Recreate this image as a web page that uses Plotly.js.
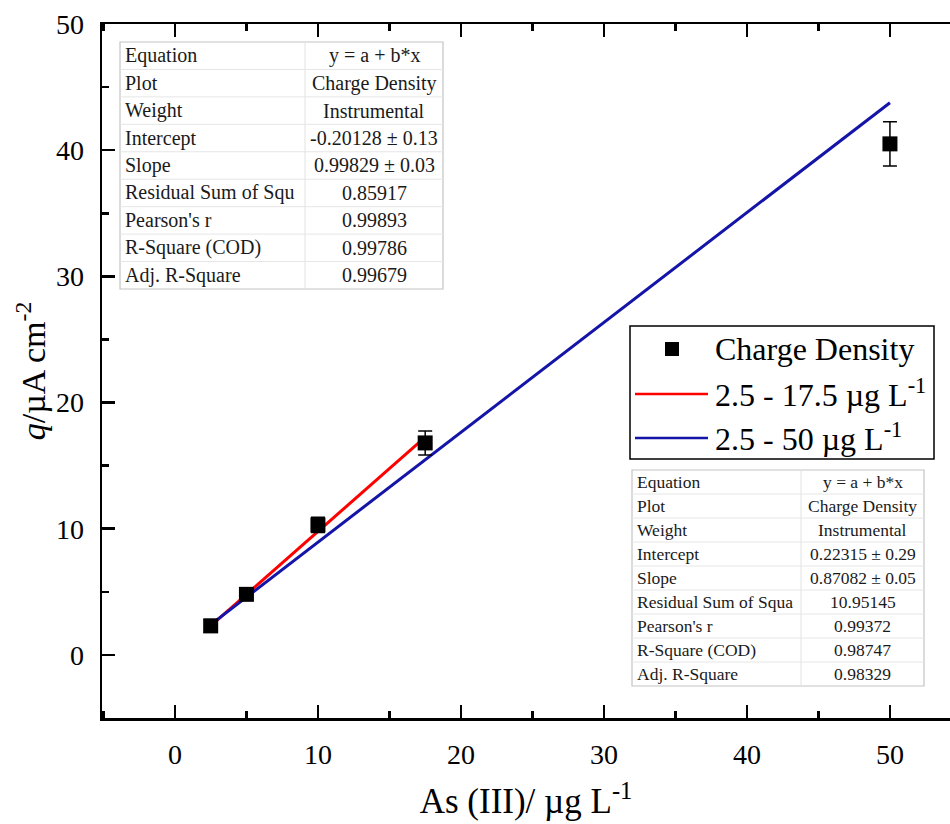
<!DOCTYPE html>
<html>
<head>
<meta charset="utf-8">
<script src="https://cdn.plot.ly/plotly-3.0.1.min.js"></script>
<style>
  html, body { margin: 0; padding: 0; background: #ffffff; overflow: hidden; }
  #chart { width: 950px; height: 824px; }
</style>
</head>
<body>
<div id="chart"></div>
<script>
// Measured points: As(III) concentration vs. charge density with error bars
const concentration = [2.5, 5, 10, 17.5, 50];
const chargeDensity = [2.3, 4.8, 10.3, 16.8, 40.5];
const chargeError = [0.5, 0.4, 0.6, 0.95, 1.75];

// Linear fits y = a + b*x over two concentration windows
const fitNames = ['2.5 - 17.5 µg L<sup>-1</sup>', '2.5 - 50 µg L<sup>-1</sup>'];
const fitIntercept = [-0.20128, 0.22315];
const fitSlope = [0.99829, 0.87082];
const fitXStart = [2.5, 2.5];
const fitXEnd = [17.5, 50];
const fitColors = ['#ff0000', '#1414a8'];

// Fit statistics tables
const statLabelsShort = ['Equation', 'Plot', 'Weight', 'Intercept', 'Slope',
  'Residual Sum of Squ', "Pearson's r", 'R-Square (COD)', 'Adj. R-Square'];
const statValuesShort = ['y = a + b*x', 'Charge Density', 'Instrumental',
  '-0.20128 ± 0.13', '0.99829 ± 0.03', '0.85917', '0.99893', '0.99786', '0.99679'];
const statLabelsLong = ['Equation', 'Plot', 'Weight', 'Intercept', 'Slope',
  'Residual Sum of Squa', "Pearson's r", 'R-Square (COD)', 'Adj. R-Square'];
const statValuesLong = ['y = a + b*x', 'Charge Density', 'Instrumental',
  '0.22315 ± 0.29', '0.87082 ± 0.05', '10.95145', '0.99372', '0.98747', '0.98329'];

const FONT = 'Liberation Serif, Times New Roman, serif';

// Plot-area geometry in pixels (used to place overlays in paper units)
const W = 950, H = 824;
const M = { l: 102, r: 0, t: 24, b: 106 };
const PL = M.l, PR = W - M.r, PT = M.t, PB = H - M.b;
const px = x => (x - PL) / (PR - PL);
const py = y => (PB - y) / (PB - PT);

const traces = [];

fitNames.forEach((name, i) => {
  const xs = [fitXStart[i], fitXEnd[i]];
  traces.push({
    type: 'scatter', mode: 'lines', name: name,
    x: xs,
    y: xs.map(x => fitIntercept[i] + fitSlope[i] * x),
    line: { color: fitColors[i], width: 3 },
    hoverinfo: 'skip'
  });
});

traces.push({
  type: 'scatter', mode: 'markers', name: 'Charge Density',
  x: concentration, y: chargeDensity,
  marker: { symbol: 'square', size: 15, color: '#000000' },
  error_y: { type: 'data', array: chargeError, visible: true,
             color: '#000000', thickness: 1.5, width: 7 }
});

const shapes = [];
const annotations = [];

function addTable(labels, values, box, fontSize) {
  const rowH = (box.bottom - box.top) / labels.length;
  shapes.push({ type: 'rect', xref: 'paper', yref: 'paper',
    x0: px(box.left), x1: px(box.right), y0: py(box.bottom), y1: py(box.top),
    line: { color: '#c4c4c4', width: 1.2 }, fillcolor: '#ffffff', layer: 'above' });
  shapes.push({ type: 'line', xref: 'paper', yref: 'paper',
    x0: px(box.split), x1: px(box.split), y0: py(box.bottom), y1: py(box.top),
    line: { color: '#e2e2e2', width: 1 }, layer: 'above' });
  for (let r = 1; r < labels.length; r++) {
    const y = box.top + r * rowH;
    shapes.push({ type: 'line', xref: 'paper', yref: 'paper',
      x0: px(box.left), x1: px(box.right), y0: py(y), y1: py(y),
      line: { color: '#e6e6e6', width: 1 }, layer: 'above' });
  }
  labels.forEach((lab, r) => {
    const yc = box.top + (r + 0.5) * rowH;
    annotations.push({ xref: 'paper', yref: 'paper', x: px(box.left + 3), y: py(yc),
      xanchor: 'left', yanchor: 'middle', showarrow: false, text: lab,
      font: { family: FONT, size: fontSize, color: '#1a1a1a' } });
    annotations.push({ xref: 'paper', yref: 'paper', x: px((box.split + box.right) / 2), y: py(yc),
      xanchor: 'center', yanchor: 'middle', showarrow: false, text: values[r],
      font: { family: FONT, size: fontSize, color: '#1a1a1a' } });
  });
}

addTable(statLabelsShort, statValuesShort,
  { left: 120, right: 443, top: 42, bottom: 289, split: 305 }, 20);
addTable(statLabelsLong, statValuesLong,
  { left: 632, right: 924, top: 470, bottom: 686, split: 801 }, 17.5);

// Legend box with marker and line samples
const lg = { left: 630, right: 934, top: 326, bottom: 459 };
shapes.push({ type: 'rect', xref: 'paper', yref: 'paper',
  x0: px(lg.left), x1: px(lg.right), y0: py(lg.bottom), y1: py(lg.top),
  line: { color: '#000000', width: 1.5 }, fillcolor: '#ffffff', layer: 'above' });
const legendRows = [349, 393, 437];
shapes.push({ type: 'rect', xref: 'paper', yref: 'paper',
  x0: px(665), x1: px(679), y0: py(356), y1: py(342),
  line: { width: 0 }, fillcolor: '#000000', layer: 'above' });
annotations.push({ xref: 'paper', yref: 'paper', x: px(713), y: py(legendRows[0]),
  xanchor: 'left', yanchor: 'middle', showarrow: false, text: 'Charge Density',
  font: { family: FONT, size: 32, color: '#000000' } });
fitNames.forEach((name, i) => {
  const y = legendRows[i + 1] + 1;
  shapes.push({ type: 'line', xref: 'paper', yref: 'paper',
    x0: px(635), x1: px(708), y0: py(y), y1: py(y),
    line: { color: fitColors[i], width: 2.5 }, layer: 'above' });
  annotations.push({ xref: 'paper', yref: 'paper', x: px(713), y: py(legendRows[i + 1]),
    xanchor: 'left', yanchor: 'middle', showarrow: false, text: name,
    font: { family: FONT, size: 32, color: '#000000' } });
});

const axisCommon = {
  showline: true, linecolor: '#000000', linewidth: 2.5,
  ticks: 'inside', ticklen: 13, tickwidth: 2.5, tickcolor: '#000000',
  showgrid: false, zeroline: false,
  tickfont: { family: FONT, size: 28, color: '#000000' },
  dtick: 10, tick0: 0,
  minor: { dtick: 5, ticks: 'inside', ticklen: 7, tickwidth: 2.5, tickcolor: '#000000', showgrid: false }
};

const layout = {
  width: W, height: H,
  margin: M,
  paper_bgcolor: '#ffffff', plot_bgcolor: '#ffffff',
  showlegend: false,
  font: { family: FONT, color: '#000000' },
  xaxis: Object.assign({}, axisCommon, {
    range: [-5.1, 54.2], mirror: 'ticks', ticklabelstandoff: 10,
    title: { text: 'As (III)/ µg L<sup>-1</sup>', font: { family: FONT, size: 35, color: '#000000' }, standoff: 20 }
  }),
  yaxis: Object.assign({}, axisCommon, {
    range: [-5, 50], mirror: false, ticklabelstandoff: 10,
    title: { text: '<i>q</i>/µA cm<sup>-2</sup>', font: { family: FONT, size: 34, color: '#000000' }, standoff: 0 }
  }),
  shapes: shapes,
  annotations: annotations
};

Plotly.newPlot('chart', traces, layout, { displayModeBar: false, staticPlot: true });
</script>
</body>
</html>
